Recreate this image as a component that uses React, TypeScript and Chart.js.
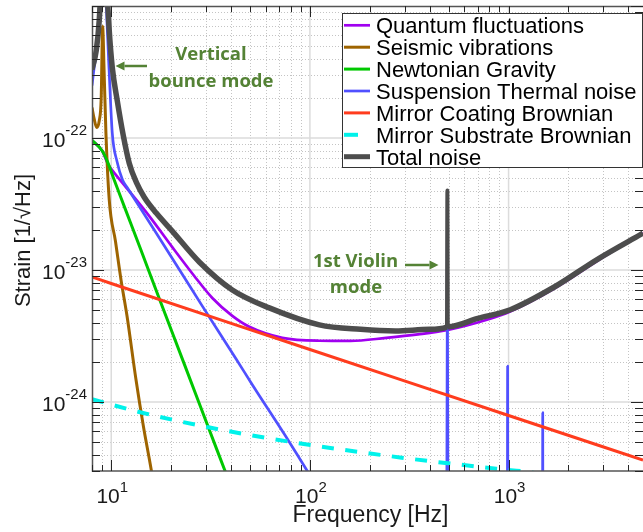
import React, { useEffect, useRef } from 'react';
import { Chart, registerables } from 'chart.js';

Chart.register(...registerables);

type Pt = [number, number];

// ---------------- data (frequency [Hz], strain [1/sqrt(Hz)]) ----------------
const seriesNames = [
  'Quantum fluctuations',
  'Seismic vibrations',
  'Newtonian Gravity',
  'Suspension Thermal noise',
  'Mirror Coating Brownian',
  'Mirror Substrate Brownian',
  'Total noise',
];

const quantumFluctuations: Pt[] = [
  [8, 9.6e-23], [9, 8.0e-23], [9.6, 6.4e-23], [10.5, 5.3e-23], [11.63, 4.39e-23],
  [15.54, 2.56e-23], [20.28, 1.49e-23], [26.17, 9.01e-24], [32.26, 6.14e-24],
  [40.68, 4.49e-24], [49.54, 3.71e-24], [72.6, 3.06e-24], [111.5, 2.91e-24],
  [160, 2.9e-24], [242, 3.06e-24], [350, 3.25e-24], [488, 3.5e-24], [778, 4.2e-24],
  [1020, 4.85e-24], [1690, 7.2e-24], [2790, 1.17e-23], [4750, 1.9e-23],
];

const seismicVibrations: Pt[] = [
  [8, 1.7e-22], [8.2, 1.4e-22], [8.45, 1.2e-22], [8.7, 1.35e-22], [8.9, 2.0e-22],
  [9.05, 7e-22], [9.2, 3.3e-22], [9.4, 1.1e-22], [9.77, 3.4e-23], [10.5, 1.65e-23],
  [11.2, 8.4e-24], [12, 4.5e-24], [13.3, 1.5e-24], [14.5, 6.6e-25], [15.9, 3.05e-25],
  [17, 1.6e-25],
];

const newtonianGravity: Pt[] = [
  [8, 9.6e-23], [9, 8.0e-23], [9.58, 6.6e-23], [10.35, 4.8e-23], [11.6, 3.06e-23],
  [14, 1.46e-23], [17.5, 6.0e-24], [23.4, 1.91e-24], [30.6, 6.6e-25], [37.2, 3.07e-25],
  [45, 1.45e-25],
];

const suspensionThermal: Pt[] = [
  [8, 2.5e-22], [8.2, 3.4e-22], [8.5, 5e-22], [8.8, 9e-22], [9.0, 2e-21], [9.15, 4e-21],
  [9.3, 2e-21], [9.5, 8e-22], [9.75, 3.3e-22], [10.12, 1.09e-22], [10.7, 6.6e-23],
  [11.4, 4.8e-23], [12.05, 4.2e-23], [14, 2.95e-23], [16.9, 1.89e-23], [22, 1.01e-23],
  [28.8, 5.3e-24], [42.6, 2.11e-24], [51.3, 1.35e-24], [78.6, 5.0e-25], [97, 3.0e-25],
  [150, 1.0e-25], [300, 1.8e-26], [486, 6e-27], [491, 3e-24], [492, 4e-23], [493, 3e-24],
  [498, 6e-27], [984, 1e-27], [989, 1.87e-24], [994, 1e-27], [1478, 4e-28],
  [1486, 8.3e-25], [1494, 4e-28], [4750, 2e-29],
];

const mirrorCoating: Pt[] = [
  [8, 8.85e-24], [10, 7.9e-24], [100, 2.5e-24], [1000, 7.9e-25], [4750, 3.63e-25],
];

const mirrorSubstrate: Pt[] = [
  [8, 1.05e-24], [13.8, 8.4e-25], [31.3, 6.4e-25], [79, 5.0e-25], [284, 3.8e-25],
  [910, 3.1e-25], [1250, 2.95e-25], [2000, 2.6e-25],
];

const totalNoise: Pt[] = [
  [8, 3.3e-22], [8.4, 4.6e-22], [8.7, 7.8e-22], [8.95, 2e-21], [9.15, 6e-21],
  [9.4, 2e-21], [9.77, 6.5e-22], [10.12, 3.42e-22], [10.72, 1.92e-22], [11.49, 1.05e-22],
  [12.32, 6.44e-23], [13.36, 4.63e-23], [14.66, 3.56e-23], [16.85, 2.7e-23],
  [20.28, 1.97e-23], [27.74, 1.15e-23], [40.68, 7.06e-24], [62.45, 5.16e-24],
  [111.5, 3.84e-24], [180, 3.55e-24], [270, 3.45e-24], [400, 3.55e-24], [489, 3.7e-24],
  [491.5, 4.0e-23], [492.5, 4.0e-23], [495, 3.72e-24], [700, 4.3e-24], [1020, 5.0e-24],
  [1690, 7.4e-24], [2790, 1.2e-23], [4750, 1.9e-23],
];

const xRange = [8, 4750];
const yRange = [3e-25, 1e-21];
const xTickExponents = ['1', '2', '3'];
const yTickExponents = ['-24', '-23', '-22'];
const xTitle = 'Frequency [Hz]';
const yTitle = 'Strain [1/\u221AHz]';

const annotationTexts = [
  { text: 'Vertical', x: 211, y: 60 },
  { text: 'bounce mode', x: 211, y: 86.5 },
  { text: '1st Violin', x: 355.5, y: 267 },
  { text: 'mode', x: 356, y: 293 },
];
const annotationArrows = [
  { from: 147, to: 115.5, y: 66 },
  { from: 405, to: 438.5, y: 265 },
];

// ---------------- styles ----------------
const colors = ['#a000f0', '#9e6400', '#00c800', '#5050ff', '#ff3c1e', '#00f2ea', '#4d4d4d'];
const widths = [2.7, 3, 3, 2.7, 3, 4, 5.5];
const FONT = '"Liberation Sans", Arial, Helvetica, sans-serif';
const GREEN = '#548235';

function logTicks(min: number, max: number) {
  const out: { v: number; major: boolean }[] = [];
  for (let e = Math.floor(Math.log10(min)) - 1; e <= Math.ceil(Math.log10(max)); e++) {
    for (let m = 1; m <= 9; m++) {
      const v = m * Math.pow(10, e);
      if (v >= min * 0.9999 && v <= max * 1.0001) out.push({ v, major: m === 1 });
    }
  }
  return out;
}

function drawPow(ctx: CanvasRenderingContext2D, exp: string, x: number, baseY: number, supY: number, align: 'center' | 'right') {
  const baseFont = `21px ${FONT}`;
  const supFont = `15px ${FONT}`;
  ctx.font = baseFont;
  const wb = ctx.measureText('10').width;
  ctx.font = supFont;
  const we = ctx.measureText(exp).width;
  const left = align === 'center' ? x - (wb + we) / 2 : x - (wb + we);
  ctx.textAlign = 'left';
  ctx.textBaseline = 'alphabetic';
  ctx.font = baseFont;
  ctx.fillText('10', left, baseY);
  ctx.font = supFont;
  ctx.fillText(exp, left + wb, supY);
}

const decorPlugin = {
  id: 'decor',
  beforeDatasetsDraw(chart: any) {
    const { ctx, chartArea: a, scales } = chart;
    const xs = scales.x, ys = scales.y;
    ctx.save();
    ctx.beginPath();
    ctx.rect(a.left, a.top, a.right - a.left, a.bottom - a.top);
    ctx.clip();
    const xt = logTicks(xRange[0], xRange[1]);
    const yt = logTicks(yRange[0], yRange[1]);
    ctx.lineWidth = 1;
    ctx.strokeStyle = '#c4c4c4';
    ctx.setLineDash([1, 2]);
    ctx.beginPath();
    for (const t of xt) if (!t.major) {
      const px = Math.round(xs.getPixelForValue(t.v)) + 0.5;
      ctx.moveTo(px, a.top); ctx.lineTo(px, a.bottom);
    }
    for (const t of yt) if (!t.major) {
      const py = Math.round(ys.getPixelForValue(t.v)) + 0.5;
      ctx.moveTo(a.left, py); ctx.lineTo(a.right, py);
    }
    ctx.stroke();
    ctx.setLineDash([]);
    ctx.strokeStyle = '#dcdcdc';
    ctx.lineWidth = 1.5;
    ctx.beginPath();
    for (const t of xt) if (t.major) {
      const px = xs.getPixelForValue(t.v);
      ctx.moveTo(px, a.top); ctx.lineTo(px, a.bottom);
    }
    for (const t of yt) if (t.major) {
      const py = ys.getPixelForValue(t.v);
      ctx.moveTo(a.left, py); ctx.lineTo(a.right, py);
    }
    ctx.stroke();
    ctx.restore();
  },
  afterDatasetsDraw(chart: any) {
    const { ctx, chartArea: a, scales } = chart;
    const xs = scales.x, ys = scales.y;
    ctx.save();
    ctx.strokeStyle = '#555';
    ctx.lineWidth = 1.5;
    ctx.beginPath();
    ctx.moveTo(a.right, a.top + 0.5);
    ctx.lineTo(a.left + 0.5, a.top + 0.5);
    ctx.lineTo(a.left + 0.5, a.bottom);
    ctx.lineTo(a.right, a.bottom);
    ctx.stroke();
    ctx.strokeStyle = '#262626';
    ctx.lineWidth = 1;
    ctx.beginPath();
    for (const t of logTicks(xRange[0], xRange[1])) {
      const px = Math.round(xs.getPixelForValue(t.v)) + 0.5;
      const len = t.major ? 11 : 6;
      ctx.moveTo(px, a.bottom); ctx.lineTo(px, a.bottom - len);
      ctx.moveTo(px, a.top); ctx.lineTo(px, a.top + len);
    }
    for (const t of logTicks(yRange[0], yRange[1])) {
      const py = Math.round(ys.getPixelForValue(t.v)) + 0.5;
      const len = t.major ? 12 : 8;
      ctx.moveTo(a.left, py); ctx.lineTo(a.left + len, py);
      ctx.moveTo(a.right, py); ctx.lineTo(a.right - len, py);
    }
    ctx.stroke();
    ctx.fillStyle = '#1a1a1a';
    xTickExponents.forEach((e) => {
      const px = xs.getPixelForValue(Math.pow(10, Number(e)));
      drawPow(ctx, e, px + 1, 503, 491.5, 'center');
    });
    yTickExponents.forEach((e) => {
      const py = ys.getPixelForValue(Math.pow(10, Number(e)));
      drawPow(ctx, e, 87, py + 9, py - 2.5, 'right');
    });
    ctx.textAlign = 'center';
    ctx.textBaseline = 'alphabetic';
    ctx.font = `23px ${FONT}`;
    ctx.fillText(xTitle, (a.left + a.right) / 2 + 3, 522);
    ctx.font = `22px ${FONT}`;
    ctx.save();
    ctx.translate(30, (a.top + a.bottom) / 2 + 2);
    ctx.rotate(-Math.PI / 2);
    ctx.fillText(yTitle, 0, 0);
    ctx.restore();
    ctx.fillStyle = GREEN;
    ctx.strokeStyle = GREEN;
    ctx.font = `bold 18.5px "Open Sans", "Noto Sans", sans-serif`;
    ctx.textAlign = 'center';
    for (const t of annotationTexts) ctx.fillText(t.text, t.x, t.y);
    for (const ar of annotationArrows) {
      const dir = Math.sign(ar.to - ar.from);
      const headLen = 9;
      const baseX = ar.to - dir * headLen;
      ctx.lineWidth = 2.5;
      ctx.beginPath();
      ctx.moveTo(ar.from, ar.y);
      ctx.lineTo(baseX, ar.y);
      ctx.stroke();
      ctx.beginPath();
      ctx.moveTo(ar.to, ar.y);
      ctx.lineTo(baseX, ar.y - 4.5);
      ctx.lineTo(baseX, ar.y + 4.5);
      ctx.closePath();
      ctx.fill();
    }
    const L = { left: 342.5, top: 13.5, right: 642.5, bottom: 167.5, row0: 25.3, step: 21.9, s0: 344, s1: 370, tx: 376 };
    ctx.fillStyle = '#ffffff';
    ctx.fillRect(L.left, L.top, L.right - L.left, L.bottom - L.top);
    ctx.strokeStyle = '#333';
    ctx.lineWidth = 1;
    ctx.strokeRect(L.left, L.top, L.right - L.left, L.bottom - L.top);
    chart.data.datasets.forEach((ds: any, i: number) => {
      const y = L.row0 + i * L.step;
      ctx.strokeStyle = ds.borderColor;
      ctx.lineWidth = Math.min(ds.borderWidth, 5);
      ctx.setLineDash(ds.borderDash && ds.borderDash.length ? [14, 20] : []);
      ctx.beginPath();
      ctx.moveTo(L.s0, y);
      ctx.lineTo(L.s1, y);
      ctx.stroke();
      ctx.setLineDash([]);
      ctx.fillStyle = '#000';
      ctx.font = `22px ${FONT}`;
      ctx.textAlign = 'left';
      ctx.fillText(ds.label, L.tx, y + 7.8);
    });
    ctx.restore();
  },
};

const seriesData = [
  quantumFluctuations, seismicVibrations, newtonianGravity, suspensionThermal,
  mirrorCoating, mirrorSubstrate, totalNoise,
];

export default function App() {
  const ref = useRef<HTMLCanvasElement | null>(null);
  useEffect(() => {
    if (!ref.current) return;
    const datasets = seriesData.map((arr, i) => ({
      label: seriesNames[i],
      data: arr.map(([x, y]) => ({ x, y })),
      borderColor: colors[i],
      backgroundColor: colors[i],
      borderWidth: widths[i],
      borderDash: i === 5 ? [12, 11.5] : [],
      borderJoinStyle: 'round' as const,
      pointRadius: 0,
      fill: false,
      cubicInterpolationMode: 'monotone' as const,
      clip: 0,
      order: seriesData.length - i,
      segment: i === 6 ? {
        borderWidth: (c: any) => (c.p0.parsed.x >= 488 && c.p1.parsed.x <= 496 ? 3.8 : undefined),
      } : undefined,
    }));
    const chart = new Chart(ref.current, {
      type: 'line',
      data: { datasets },
      options: {
        animation: false,
        responsive: false,
        events: [],
        layout: { padding: { left: 92, top: 6, right: 0, bottom: 61 } },
        scales: {
          x: { type: 'logarithmic', min: xRange[0], max: xRange[1], display: false },
          y: { type: 'logarithmic', min: yRange[0], max: yRange[1], display: false },
        },
        plugins: { legend: { display: false }, tooltip: { enabled: false } },
      },
      plugins: [decorPlugin],
    } as any);
    return () => chart.destroy();
  }, []);
  return (
    <div style={{ position: 'absolute', left: 0, top: 0, width: 643, height: 532, background: '#fff' }}>
      <canvas ref={ref} width={643} height={532} style={{ display: 'block' }} />
    </div>
  );
}
